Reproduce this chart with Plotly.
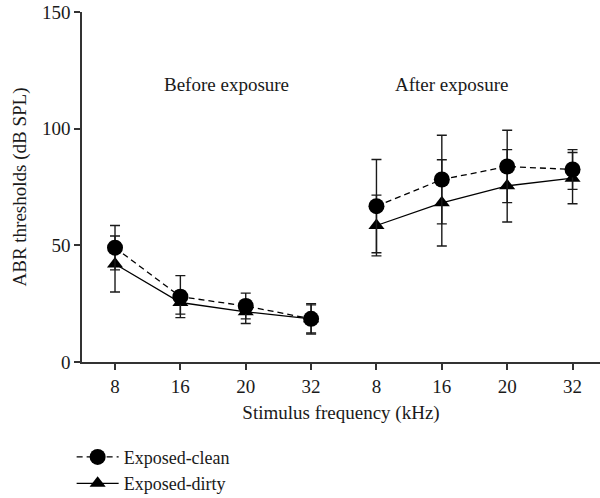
import plotly.graph_objects as go

# Data
tick_labels = ["8", "16", "20", "32", "8", "16", "20", "32"]
positions = [0, 1, 2, 3, 4, 5, 6, 7]

clean_before = [49, 28, 24, 18.5]
clean_before_err = [9.5, 9, 5.5, 6.5]
dirty_before = [42, 25.5, 21.5, 18.5]
dirty_before_err = [12, 5, 5, 6]

clean_after = [66.8, 78.2, 83.8, 82.5]
clean_after_err = [20, 19, 15.5, 8.5]
dirty_after = [58.5, 68.2, 75.5, 78.8]
dirty_after_err = [13, 18.5, 15.5, 11]

group_labels = ["Before exposure", "After exposure"]
group_label_x = [1.7, 5.15]
group_label_y = 119

FONT = "Liberation Serif"
INK = "#1a1a1a"
FS = 19

fig = go.Figure()

def add(xs, ys, errs, name, dash, symbol, size, show):
    fig.add_trace(go.Scatter(
        x=xs, y=ys, mode="lines+markers", name=name, legendgroup=name,
        showlegend=show,
        line=dict(color="black", width=1.3, dash=dash),
        marker=dict(symbol=symbol, size=size, color="black"),
        error_y=dict(type="data", array=errs, visible=True, color=INK,
                     thickness=1.4, width=5),
    ))

add(positions[:4], dirty_before, dirty_before_err, "Exposed-dirty", "solid", "triangle-up", 14, False)
add(positions[4:], dirty_after, dirty_after_err, "Exposed-dirty", "solid", "triangle-up", 14, False)
add(positions[:4], clean_before, clean_before_err, "Exposed-clean", "6px,4px", "circle", 16, True)
add(positions[4:], clean_after, clean_after_err, "Exposed-clean", "6px,4px", "circle", 16, False)
# legend entry for dirty (ordered after clean)
fig.add_trace(go.Scatter(
    x=[None], y=[None], mode="lines+markers", name="Exposed-dirty", legendgroup="Exposed-dirty",
    line=dict(color="black", width=1.3), marker=dict(symbol="triangle-up", size=14, color="black"),
))

for lbl, gx in zip(group_labels, group_label_x):
    fig.add_annotation(x=gx, y=group_label_y, text=lbl, showarrow=False,
                       font=dict(family=FONT, size=FS, color=INK))

fig.update_layout(
    width=600, height=498,
    margin=dict(l=82, r=0, t=12, b=136, autoexpand=False),
    paper_bgcolor="white", plot_bgcolor="white",
    font=dict(family=FONT, size=FS, color=INK),
    showlegend=True,
    legend=dict(orientation="v", x=-0.02, xanchor="left", yref="container", y=0.119, yanchor="top",
                font=dict(family=FONT, size=18, color=INK), tracegroupgap=0,
                itemwidth=42, bgcolor="rgba(0,0,0,0)"),
    xaxis=dict(range=[-0.505, 7.42], tickvals=positions, ticktext=tick_labels,
               showgrid=False, zeroline=False, showline=True, linecolor="#333",
               linewidth=1.5, ticks="outside", ticklen=6, tickwidth=1.5, tickcolor="#333",
               tickfont=dict(family=FONT, size=FS),
               title=dict(text="Stimulus frequency (kHz)", font=dict(family=FONT, size=FS), standoff=10)),
    yaxis=dict(range=[0, 150], tickvals=[0, 50, 100, 150],
               showgrid=False, zeroline=False, showline=True, linecolor="#333",
               linewidth=1.5, ticks="outside", ticklen=6, tickwidth=1.5, tickcolor="#333",
               tickfont=dict(family=FONT, size=FS),
               title=dict(text="ABR thresholds (dB SPL)", font=dict(family=FONT, size=FS), standoff=10)),
)

fig.write_html("out.html")
